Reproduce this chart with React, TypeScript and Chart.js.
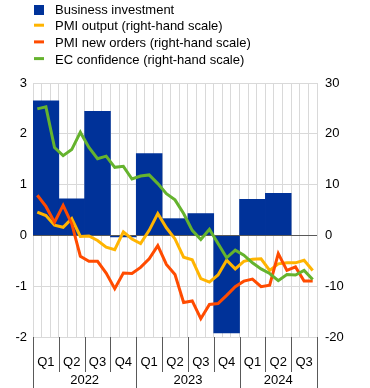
import React, { useEffect, useRef } from 'react';
import { Chart, registerables } from 'chart.js';

Chart.register(...registerables);

const monthLabels = [
  'Jan 2022', 'Feb 2022', 'Mar 2022', 'Apr 2022', 'May 2022', 'Jun 2022',
  'Jul 2022', 'Aug 2022', 'Sep 2022', 'Oct 2022', 'Nov 2022', 'Dec 2022',
  'Jan 2023', 'Feb 2023', 'Mar 2023', 'Apr 2023', 'May 2023', 'Jun 2023',
  'Jul 2023', 'Aug 2023', 'Sep 2023', 'Oct 2023', 'Nov 2023', 'Dec 2023',
  'Jan 2024', 'Feb 2024', 'Mar 2024', 'Apr 2024', 'May 2024', 'Jun 2024',
  'Jul 2024', 'Aug 2024', 'Sep 2024',
];

const quarterLabels = [
  '2022 Q1', '2022 Q2', '2022 Q3', '2022 Q4',
  '2023 Q1', '2023 Q2', '2023 Q3', '2023 Q4',
  '2024 Q1', '2024 Q2', '2024 Q3',
];

// left-hand scale, quarterly
const businessInvestment = [2.65, 0.72, 2.44, -0.03, 1.61, 0.33, 0.43, -1.92, 0.71, 0.83, null];

// right-hand scale, monthly
const pmiOutput = [
  4.6, 3.9, 2.0, 1.6, 3.3, -0.2, -0.1, -1.0, -2.3, -2.8, 0.7, -0.7,
  -1.6, 1.0, 4.3, 1.5, -0.7, -4.3, -4.8, -8.5, -9.2, -7.8, -4.9, -6.6,
  -5.1, -4.7, -4.6, -6.9, -5.6, -5.4, -5.4, -4.9, -6.9,
];

const pmiNewOrders = [
  7.9, 5.7, 2.6, 5.9, 2.3, -4.1, -5.1, -5.1, -7.4, -10.5, -7.4, -7.5,
  -6.3, -4.6, -2.0, -5.7, -7.7, -13.2, -12.9, -16.4, -13.6, -13.4, -11.8, -10.1,
  -9.0, -8.6, -10.1, -9.8, -3.6, -6.9, -6.2, -9.0, -9.0,
];

const ecConfidence = [
  24.9, 25.3, 17.3, 15.7, 16.9, 20.3, 17.3, 15.1, 15.6, 13.4, 13.6, 11.1,
  11.7, 11.9, 10.2, 8.2, 7.0, 4.3, 1.0, -0.8, 1.2, -1.6, -4.4, -2.9,
  -3.9, -5.4, -6.6, -7.5, -8.9, -7.7, -7.8, -6.9, -8.7,
];

const BLUE = '#003299';
const YELLOW = '#ffb400';
const ORANGE = '#ff4b00';
const GREEN = '#65b32e';
const FONT = "'Liberation Sans', Arial, sans-serif";

const legendItems = [
  { label: 'Business investment', color: BLUE, kind: 'box' },
  { label: 'PMI output (right-hand scale)', color: YELLOW, kind: 'line' },
  { label: 'PMI new orders (right-hand scale)', color: ORANGE, kind: 'line' },
  { label: 'EC confidence (right-hand scale)', color: GREEN, kind: 'line' },
];

const legendPlugin = {
  id: 'customLegend',
  afterDraw(chart: any) {
    const ctx = chart.ctx;
    ctx.save();
    ctx.font = `13px ${FONT}`;
    ctx.textBaseline = 'middle';
    ctx.textAlign = 'left';
    legendItems.forEach((it, i) => {
      const cy = 10 + i * 16.7;
      ctx.fillStyle = it.color;
      if (it.kind === 'box') ctx.fillRect(34, cy - 5, 10, 10);
      else ctx.fillRect(34, cy - 3, 10, 3);
      ctx.fillStyle = '#000';
      ctx.fillText(it.label, 55, cy);
    });
    ctx.restore();
  },
};

const zeroLinePlugin = {
  id: 'zeroLine',
  afterDatasetDraw(chart: any, args: any) {
    if (chart.data.datasets[args.index].type !== 'bar') return;
    const { ctx, chartArea } = chart;
    const y = Math.round(chart.scales.y.getPixelForValue(0)) + 0.5;
    ctx.save();
    ctx.strokeStyle = '#595959';
    ctx.lineWidth = 1;
    ctx.beginPath();
    ctx.moveTo(chartArea.left, y);
    ctx.lineTo(chartArea.right, y);
    ctx.stroke();
    ctx.restore();
  },
};

const xAxisPlugin = {
  id: 'xAxisLabels',
  afterDraw(chart: any) {
    const { ctx, chartArea } = chart;
    const { left, right, bottom } = chartArea;
    const n = monthLabels.length;
    const w = (right - left) / n;
    ctx.save();
    ctx.strokeStyle = '#595959';
    ctx.lineWidth = 1;
    ctx.fillStyle = '#000';
    ctx.font = `13px ${FONT}`;
    ctx.textAlign = 'center';
    ctx.textBaseline = 'middle';
    for (let q = 0; q <= quarterLabels.length; q++) {
      const m = q * 3;
      const x = Math.round(left + Math.min(m, n) * w) + 0.5;
      const isYearEdge =
        q === 0 || q === quarterLabels.length || quarterLabels[q].endsWith('Q1');
      ctx.beginPath();
      ctx.moveTo(x, bottom);
      ctx.lineTo(x, isYearEdge ? bottom + 52 : bottom + 35);
      ctx.stroke();
      if (q < quarterLabels.length) {
        const xc = left + (m + 1.5) * w;
        ctx.fillText(quarterLabels[q].split(' ')[1], xc, bottom + 25);
      }
    }
    const yearGroups: { year: string; start: number; end: number }[] = [];
    monthLabels.forEach((lab, i) => {
      const yr = lab.split(' ')[1];
      const g = yearGroups[yearGroups.length - 1];
      if (g && g.year === yr) g.end = i + 1;
      else yearGroups.push({ year: yr, start: i, end: i + 1 });
    });
    yearGroups.forEach((g) => {
      const xc = left + ((g.start + g.end) / 2) * w;
      ctx.fillText(g.year, xc, bottom + 43);
    });
    ctx.restore();
  },
};

export default function App() {
  const ref = useRef<HTMLCanvasElement>(null);

  useEffect(() => {
    document.body.style.margin = '0';
    const canvas = ref.current;
    if (!canvas) return;
    const chart = new Chart(canvas, {
      type: 'bar',
      data: {
        labels: monthLabels,
        datasets: [
          {
            type: 'line',
            label: 'EC confidence (right-hand scale)',
            data: ecConfidence,
            xAxisID: 'x',
            yAxisID: 'y1',
            borderColor: GREEN,
            backgroundColor: GREEN,
            borderWidth: 3,
            pointRadius: 0,
            tension: 0,
            order: 1,
          },
          {
            type: 'line',
            label: 'PMI new orders (right-hand scale)',
            data: pmiNewOrders,
            xAxisID: 'x',
            yAxisID: 'y1',
            borderColor: ORANGE,
            backgroundColor: ORANGE,
            borderWidth: 3,
            pointRadius: 0,
            tension: 0,
            order: 2,
          },
          {
            type: 'line',
            label: 'PMI output (right-hand scale)',
            data: pmiOutput,
            xAxisID: 'x',
            yAxisID: 'y1',
            borderColor: YELLOW,
            backgroundColor: YELLOW,
            borderWidth: 3,
            pointRadius: 0,
            tension: 0,
            order: 3,
          },
          {
            type: 'bar',
            label: 'Business investment',
            data: businessInvestment,
            xAxisID: 'xq',
            yAxisID: 'y',
            backgroundColor: BLUE,
            borderWidth: 0,
            grouped: false,
            categoryPercentage: 1,
            barPercentage: 1,
            order: 10,
          },
        ] as any,
      },
      options: {
        animation: false,
        responsive: false,
        maintainAspectRatio: false,
        layout: { padding: { top: 83, left: 0, right: 0, bottom: 0 } },
        plugins: {
          legend: { display: false },
          tooltip: { enabled: false },
        },
        scales: {
          x: {
            type: 'category',
            position: 'bottom',
            offset: true,
            grid: { offset: true, color: '#d9d9d9', lineWidth: 1, drawTicks: false },
            border: { display: false },
            ticks: { display: false, autoSkip: false },
            afterFit: (s: any) => {
              s.height = 51;
            },
          },
          xq: {
            type: 'category',
            labels: quarterLabels,
            position: 'bottom',
            offset: true,
            display: false,
          },
          y: {
            position: 'left',
            min: -2,
            max: 3,
            ticks: {
              stepSize: 1,
              color: '#000',
              font: { family: FONT, size: 13 },
              padding: 6,
            },
            grid: { color: '#d9d9d9', lineWidth: 1, drawTicks: false },
            border: { display: false },
            afterFit: (s: any) => {
              s.width = 33;
            },
          },
          y1: {
            position: 'right',
            min: -20,
            max: 30,
            ticks: {
              stepSize: 10,
              color: '#000',
              font: { family: FONT, size: 13 },
              padding: 8,
            },
            grid: { display: false, drawTicks: false },
            border: { display: false },
            afterFit: (s: any) => {
              s.width = 53;
            },
          },
        } as any,
      },
      plugins: [legendPlugin, zeroLinePlugin, xAxisPlugin],
    });
    return () => chart.destroy();
  }, []);

  return (
    <div style={{ width: 370, height: 388 }}>
      <canvas ref={ref} width={370} height={388} style={{ display: 'block' }} />
    </div>
  );
}
